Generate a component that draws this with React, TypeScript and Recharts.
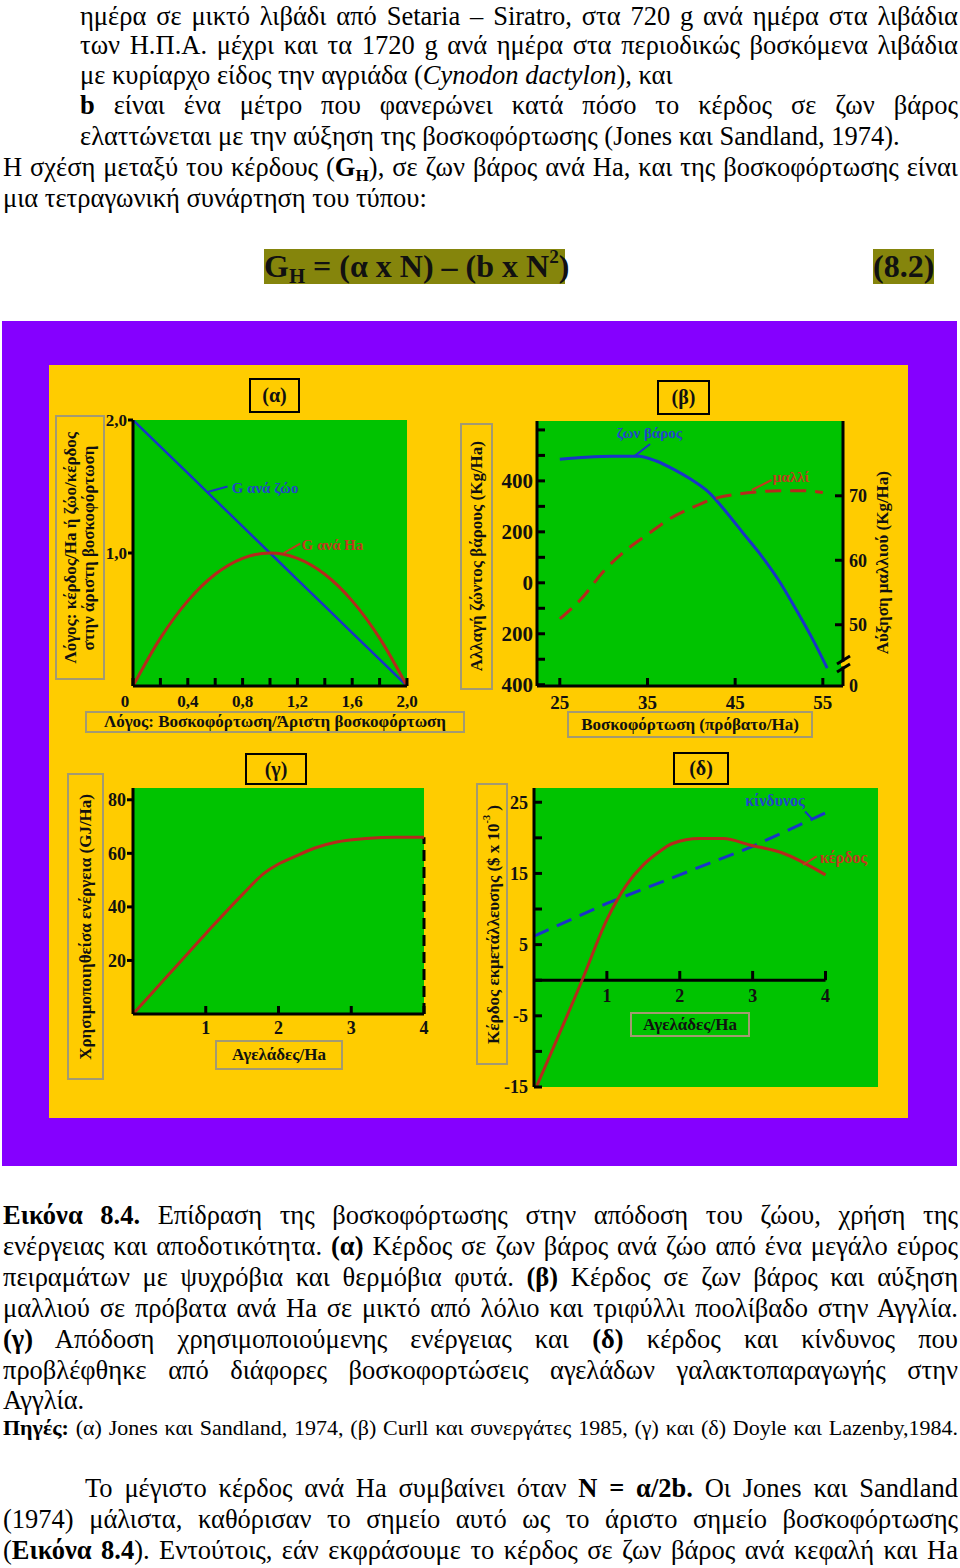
import React from 'react'
import { LineChart, Line, XAxis, YAxis, CartesianGrid, ReferenceLine, ReferenceDot } from 'recharts'

const FONT = '"Liberation Serif", "Times New Roman", serif'
const GREEN = '#00c300'
const YELLOW = '#ffcc00'
const PURPLE = '#8500ff'
const BLUE = '#1a34c8'
const RED = '#b52a1c'
const LABEL_BLUE = '#2147c9'
const LABEL_RED = '#c23a1e'
const BOX_EDGE = '2px solid #a39a72'

// (α) ratio of stocking rate to optimum
const ratio = [0, 0.2, 0.4, 0.6, 0.8, 1.0, 1.2, 1.4, 1.6, 1.8, 2.0]
const gainPerAnimal = [2.0, 1.8, 1.6, 1.4, 1.2, 1.0, 0.8, 0.6, 0.4, 0.2, 0]
const gainPerHa = [0, 0.36, 0.64, 0.84, 0.96, 1.0, 0.96, 0.84, 0.64, 0.36, 0]
const ratioTickLabels = ['0', '', '0,4', '', '0,8', '', '1,2', '', '1,6', '', '2,0']
const ratioYTicks = [1, 2]
const ratioYLabels = ['1,0', '2,0']

// (β) sheep per Ha
const sheepLw = [25, 28, 31, 34, 36, 38, 40, 42, 44, 46, 48, 50, 52, 54, 55.5]
const liveWeight = [485, 493, 497, 497, 478, 445, 405, 355, 277, 191, 106, 8, -108, -232, -335]
const sheepWool = [25, 27.5, 30, 32.5, 35, 37.5, 40, 42.5, 45, 47.5, 50, 52.5, 55]
const wool = [50.9, 54.1, 58.3, 61.5, 64.0, 66.4, 68.1, 69.5, 70.2, 70.6, 70.8, 70.8, 70.5]
const sheepTicks = [25, 35, 45, 55]
const sheepTickLabels = ['25', '35', '45', '55']
const lwTicks = [-400, -300, -200, -100, 0, 100, 200, 300, 400, 500, 600]
const lwTickLabels = ['400', '', '200', '', '0', '', '200', '', '400', '', '']
const woolTicks = [40.5, 50, 60, 70]
const woolTickLabels = ['0', '50', '60', '70']

// (γ) cows per Ha vs energy used
const cowsEnergy = [0, 0.5, 1, 1.5, 1.8, 2.0, 2.2, 2.5, 2.8, 3.2, 3.6, 4.0]
const energy = [0, 15, 30, 44.5, 52.5, 56, 58.5, 62, 64.2, 65.5, 66, 66]
const cowTicks = [1, 2, 3, 4]
const cowTickLabels = ['1', '2', '3', '4']
const energyTicks = [20, 40, 60, 80]
const energyTickLabels = ['20', '40', '60', '80']

// (δ) cows per Ha vs profit and risk
const cowsProfit = [0.04, 0.66, 1.0, 1.27, 1.5, 1.7, 1.9, 2.27, 2.6, 2.96, 3.4, 4.0]
const profit = [-14.8, 0, 8.5, 13.4, 16.2, 17.9, 19.2, 19.9, 19.9, 19.0, 17.9, 14.8]
const cowsRisk = [0, 1, 2, 3, 4]
const risk = [6.2, 10.8, 14.8, 18.8, 23.5]
const profitTicks = [-15, -10, -5, 0, 5, 10, 15, 20, 25]
const profitTickLabels = ['-15', '', '-5', '', '5', '', '15', '', '25']

const pairs = (xs: number[], ys: number[]) => xs.map((x, i) => ({ x, y: ys[i] }))

const axisLine = { stroke: '#000', strokeWidth: 3 }
const tickFont = { fontFamily: FONT, fontWeight: 700, fill: '#111' }

function BottomTick(props: any) {
  const { x, y, index, labels, len, inward, gap, size, zeroShift = 0 } = props
  const label = labels[index] ?? ''
  return (
    <g>
      {len > 0 && <line x1={x} x2={x} y1={y} y2={inward ? y - len : y + len} stroke="#000" strokeWidth={3} />}
      {label !== '' && (
        <text x={x + (index === 0 ? zeroShift : 0)} y={y + gap} dy="0.35em" textAnchor="middle" fontSize={size} {...tickFont}>
          {label}
        </text>
      )}
    </g>
  )
}

function LeftTick(props: any) {
  const { x, y, index, labels, len, inward, gap, size } = props
  const label = labels[index] ?? ''
  return (
    <g>
      <line x1={x} x2={inward ? x + len : x - len} y1={y} y2={y} stroke="#000" strokeWidth={3} />
      {label !== '' && (
        <text x={x - gap} y={y} dy="0.35em" textAnchor="end" fontSize={size} {...tickFont}>
          {label}
        </text>
      )}
    </g>
  )
}

function RightTick(props: any) {
  const { x, y, index, labels, size } = props
  const label = labels[index] ?? ''
  const isBreak = index === 0
  return (
    <g>
      {!isBreak && <line x1={x} x2={x - 8} y1={y} y2={y} stroke="#000" strokeWidth={3} />}
      {isBreak && (
        <g stroke="#000" strokeWidth={3}>
          <line x1={x - 2} x2={x + 2} y1={y - 22} y2={y - 22} stroke={YELLOW} strokeWidth={5} />
          <line x1={x - 6} x2={x + 7} y1={y - 22} y2={y - 30} />
          <line x1={x - 6} x2={x + 7} y1={y - 14} y2={y - 22} />
        </g>
      )}
      <text x={x + 6} y={y} dy="0.35em" textAnchor="start" fontSize={size} {...tickFont}>
        {label}
      </text>
    </g>
  )
}

// text drawn at a data point, used for the curve names and the (δ) axis numbers
function note(text: string, color: string, size: number, anchor: 'start' | 'middle' = 'start', dy = 0) {
  return (p: any) => (
    <text x={p.cx} y={p.cy + dy} dy="0.35em" textAnchor={anchor} fill={color} fontSize={size} fontWeight={700} fontFamily={FONT}>
      {text}
    </text>
  )
}

function Box({ left, top, width, height, border = BOX_EDGE, vertical = false, size = 17, bg, children }: any) {
  return (
    <div
      style={{
        position: 'absolute', left, top, width, height, boxSizing: 'border-box', border,
        display: 'flex', alignItems: 'center', justifyContent: 'center', background: bg,
        fontFamily: FONT, fontWeight: 700, fontSize: size, lineHeight: 1.05, color: '#111',
      }}
    >
      <div style={vertical ? { writingMode: 'vertical-rl', transform: 'rotate(180deg)', textAlign: 'center', whiteSpace: 'nowrap' } : { whiteSpace: 'nowrap' }}>
        {children}
      </div>
    </div>
  )
}

function TextLine({ y, left = 3, right = 958, justify = true, size = 26.5, children }: any) {
  return (
    <div
      style={{
        position: 'absolute', left, top: y - 16, width: right - left, height: 32, lineHeight: '32px',
        fontFamily: FONT, fontSize: size, color: '#000',
        textAlign: justify ? 'justify' : 'left', textAlignLast: justify ? 'justify' : 'left',
      }}
    >
      {children}
    </div>
  )
}

function PanelA() {
  return (
    <div style={{ position: 'absolute', left: 95, top: 405 }}>
      <LineChart width={335} height={310} margin={{ top: 15, right: 23, left: 0, bottom: 0 }}>
        <CartesianGrid fill={GREEN} stroke="none" horizontal={false} vertical={false} />
        <XAxis
          type="number" dataKey="x" domain={[0, 2]} ticks={ratio} interval={0} height={29}
          tickSize={0} tickMargin={0} tickLine={false} axisLine={axisLine} allowDataOverflow
          tick={(p: any) => <BottomTick {...p} labels={ratioTickLabels} len={8} inward gap={15} size={17} zeroShift={-8} />}
        />
        <YAxis
          type="number" domain={[0, 2]} ticks={ratioYTicks} interval={0} width={38}
          tickSize={0} tickMargin={0} tickLine={false} axisLine={axisLine} allowDataOverflow
          tick={(p: any) => <LeftTick {...p} labels={ratioYLabels} len={5} gap={6} size={17} />}
        />
        <Line data={pairs(ratio, gainPerAnimal)} dataKey="y" stroke={BLUE} strokeWidth={2.5} dot={false} activeDot={false} isAnimationActive={false} />
        <Line data={pairs(ratio, gainPerHa)} dataKey="y" stroke={RED} strokeWidth={3} dot={false} activeDot={false} isAnimationActive={false} type="monotone" />
        <ReferenceLine segment={[{ x: 0.55, y: 1.46 }, { x: 0.69, y: 1.5 }]} stroke={BLUE} strokeWidth={2} />
        <ReferenceDot x={0.72} y={1.49} r={0} shape={note('G ανά ζώο', LABEL_BLUE, 15)} />
        <ReferenceLine segment={[{ x: 1.1, y: 1.0 }, { x: 1.22, y: 1.07 }]} stroke={LABEL_RED} strokeWidth={2} />
        <ReferenceDot x={1.23} y={1.06} r={0} shape={note('G ανά Ha', LABEL_RED, 15)} />
      </LineChart>
    </div>
  )
}

function PanelB() {
  return (
    <div style={{ position: 'absolute', left: 495, top: 410 }}>
      <LineChart width={380} height={305} margin={{ top: 11, right: 0, left: 0, bottom: 0 }}>
        <CartesianGrid yAxisId="left" fill={GREEN} stroke="none" horizontal={false} vertical={false} />
        <XAxis
          type="number" dataKey="x" domain={[22.4, 57.3]} ticks={sheepTicks} interval={0} height={29}
          tickSize={0} tickMargin={0} tickLine={false} axisLine={axisLine} allowDataOverflow
          tick={(p: any) => <BottomTick {...p} labels={sheepTickLabels} len={8} inward gap={16} size={19} />}
        />
        <YAxis
          yAxisId="left" type="number" domain={[-405, 635]} ticks={lwTicks} interval={0} width={42}
          tickSize={0} tickMargin={0} tickLine={false} axisLine={axisLine} allowDataOverflow
          tick={(p: any) => <LeftTick {...p} labels={lwTickLabels} len={8} inward gap={4} size={21} />}
        />
        <YAxis
          yAxisId="right" orientation="right" type="number" domain={[40.5, 81.6]} ticks={woolTicks} interval={0} width={32}
          tickSize={0} tickMargin={0} tickLine={false} axisLine={axisLine} allowDataOverflow
          tick={(p: any) => <RightTick {...p} labels={woolTickLabels} size={18} />}
        />
        <Line yAxisId="left" data={pairs(sheepLw, liveWeight)} dataKey="y" stroke={BLUE} strokeWidth={3} type="monotone" dot={false} activeDot={false} isAnimationActive={false} />
        <Line yAxisId="right" data={pairs(sheepWool, wool)} dataKey="y" stroke={RED} strokeWidth={3} strokeDasharray="16 9" type="monotone" dot={false} activeDot={false} isAnimationActive={false} />
        <ReferenceLine yAxisId="left" segment={[{ x: 33.55, y: 498 }, { x: 35.3, y: 545 }]} stroke={BLUE} strokeWidth={2} />
        <ReferenceDot yAxisId="left" x={31.5} y={588} r={0} shape={note('ζων βάρος', LABEL_BLUE, 15)} />
        <ReferenceLine yAxisId="right" segment={[{ x: 46.9, y: 70.9 }, { x: 49.15, y: 72.45 }]} stroke={LABEL_RED} strokeWidth={2} />
        <ReferenceDot yAxisId="right" x={49.3} y={72.9} r={0} shape={note('μαλλί', LABEL_RED, 15)} />
      </LineChart>
    </div>
  )
}

function PanelC() {
  return (
    <div style={{ position: 'absolute', left: 95, top: 775 }}>
      <LineChart width={340} height={270} margin={{ top: 13, right: 11, left: 0, bottom: 0 }}>
        <CartesianGrid fill={GREEN} stroke="none" horizontal={false} vertical={false} />
        <XAxis
          type="number" dataKey="x" domain={[0, 4]} ticks={cowTicks} interval={0} height={31}
          tickSize={0} tickMargin={0} tickLine={false} axisLine={axisLine} allowDataOverflow
          tick={(p: any) => <BottomTick {...p} labels={cowTickLabels} len={8} inward gap={14} size={18} />}
        />
        <YAxis
          type="number" domain={[0, 84.4]} ticks={energyTicks} interval={0} width={38}
          tickSize={0} tickMargin={0} tickLine={false} axisLine={axisLine} allowDataOverflow
          tick={(p: any) => <LeftTick {...p} labels={energyTickLabels} len={6} gap={7} size={18} />}
        />
        <ReferenceLine segment={[{ x: 4, y: 0 }, { x: 4, y: 66 }]} stroke="#000" strokeWidth={3} strokeDasharray="11 6" />
        <Line data={pairs(cowsEnergy, energy)} dataKey="y" stroke={RED} strokeWidth={3} type="monotone" dot={false} activeDot={false} isAnimationActive={false} />
      </LineChart>
    </div>
  )
}

function PanelD() {
  return (
    <div style={{ position: 'absolute', left: 490, top: 775 }}>
      <LineChart width={400} height={332} margin={{ top: 13, right: 12, left: 0, bottom: 20 }}>
        <CartesianGrid fill={GREEN} stroke="none" horizontal={false} vertical={false} />
        <XAxis type="number" dataKey="x" domain={[0, 4.72]} hide allowDataOverflow />
        <YAxis
          type="number" domain={[-15, 27]} ticks={profitTicks} interval={0} width={44}
          tickSize={0} tickMargin={0} tickLine={false} axisLine={axisLine} allowDataOverflow
          tick={(p: any) => <LeftTick {...p} labels={profitTickLabels} len={8} inward gap={6} size={18} />}
        />
        <ReferenceLine segment={[{ x: 0, y: 0 }, { x: 4, y: 0 }]} stroke="#000" strokeWidth={3} />
        {cowTicks.map((t) => (
          <ReferenceLine key={'t' + t} segment={[{ x: t, y: 0 }, { x: t, y: 1.3 }]} stroke="#000" strokeWidth={3} />
        ))}
        {cowTicks.map((t, i) => (
          <ReferenceDot key={'l' + t} x={t} y={0} r={0} shape={note(cowTickLabels[i], '#111', 18, 'middle', 15)} />
        ))}
        <Line data={pairs(cowsRisk, risk)} dataKey="y" stroke={BLUE} strokeWidth={3} strokeDasharray="16 9" dot={false} activeDot={false} isAnimationActive={false} />
        <Line data={pairs(cowsProfit, profit)} dataKey="y" stroke={RED} strokeWidth={3} type="monotone" dot={false} activeDot={false} isAnimationActive={false} />
        <ReferenceLine segment={[{ x: 3.72, y: 23.7 }, { x: 3.82, y: 22.6 }]} stroke={BLUE} strokeWidth={2} />
        <ReferenceDot x={2.9} y={25.3} r={0} shape={note('κίνδυνος', LABEL_BLUE, 16)} />
        <ReferenceLine segment={[{ x: 3.69, y: 16.2 }, { x: 3.88, y: 17.4 }]} stroke={LABEL_RED} strokeWidth={2} />
        <ReferenceDot x={3.92} y={17.3} r={0} shape={note('κέρδος', LABEL_RED, 16)} />
      </LineChart>
    </div>
  )
}

const olive = { position: 'absolute' as const, top: 249, height: 35, background: '#85850c', fontWeight: 700, fontSize: 32, lineHeight: '35px', textAlign: 'center' as const, whiteSpace: 'nowrap' as const, color: '#111' }
const lowered = { fontSize: '0.65em', position: 'relative' as const, top: '0.3em', lineHeight: 0 }
const raised = { fontSize: '0.6em', position: 'relative' as const, top: '-0.75em', lineHeight: 0 }

export default function App() {
  return (
    <div style={{ position: 'absolute', left: 0, top: 0, width: 960, height: 1568, background: '#fff', overflow: 'hidden', fontFamily: FONT }}>
      <TextLine y={16} left={80}>ημέρα σε μικτό λιβάδι από Setaria – Siratro, στα 720 g ανά ημέρα στα λιβάδια</TextLine>
      <TextLine y={45} left={80}>των Η.Π.Α. μέχρι και τα 1720 g ανά ημέρα στα περιοδικώς βοσκόμενα λιβάδια</TextLine>
      <TextLine y={75} left={80} justify={false}>με κυρίαρχο είδος την αγριάδα (<i>Cynodon dactylon</i>), και</TextLine>
      <TextLine y={105} left={80}><b>b</b> είναι ένα μέτρο που φανερώνει κατά πόσο το κέρδος σε ζων βάρος</TextLine>
      <TextLine y={136} left={80} justify={false}>ελαττώνεται με την αύξηση της βοσκοφόρτωσης (Jones και Sandland, 1974).</TextLine>
      <TextLine y={167}>Η σχέση μεταξύ του κέρδους (<b>G<span style={lowered}>H</span></b>), σε ζων βάρος ανά Ha, και της βοσκοφόρτωσης είναι</TextLine>
      <TextLine y={198} justify={false}>μια τετραγωνική συνάρτηση του τύπου:</TextLine>

      <div style={{ ...olive, left: 264, width: 301 }}>
        G<span style={lowered}>H</span> = (α x N) – (b x N<span style={raised}>2</span>)
      </div>
      <div style={{ ...olive, left: 873, width: 61 }}>(8.2)</div>

      <div style={{ position: 'absolute', left: 2, top: 321, width: 955, height: 845, background: PURPLE }} />
      <div style={{ position: 'absolute', left: 49, top: 365, width: 859, height: 753, background: YELLOW }} />

      <PanelA />
      <PanelB />
      <PanelC />
      <PanelD />

      <Box left={249} top={378} width={51} height={35} border="2px solid #000" size={20}>(α)</Box>
      <Box left={55} top={415} width={50} height={265} vertical>
        Λόγος: κέρδος/Ha ή ζώο/κέρδος<br />στην άριστη βοσκοφόρτωση
      </Box>
      <Box left={85} top={711} width={380} height={22}>Λόγος: Βοσκοφόρτωση/Άριστη βοσκοφόρτωση</Box>

      <Box left={657} top={380} width={53} height={35} border="2px solid #000" size={20}>(β)</Box>
      <Box left={460} top={423} width={33} height={267} vertical>Αλλαγή ζώντος βάρους (Kg/Ha)</Box>
      <Box left={871} top={455} width={24} height={215} border="none" vertical>Αύξηση μαλλιού (Kg/Ha)</Box>
      <Box left={567} top={711} width={246} height={27}>Βοσκοφόρτωση (πρόβατο/Ha)</Box>

      <Box left={245} top={753} width={62} height={32} border="2px solid #000" size={20}>(γ)</Box>
      <Box left={67} top={773} width={37} height={307} vertical>Χρησιμοποιηθείσα ενέργεια (GJ/Ha)</Box>
      <Box left={215} top={1040} width={128} height={30}>Αγελάδες/Ha</Box>

      <Box left={673} top={752} width={56} height={33} border="2px solid #000" size={20}>(δ)</Box>
      <Box left={476} top={783} width={32} height={282} vertical>
        Κέρδος εκμετάλλευσης ($ x 10<sup style={{ fontSize: '0.6em' }}>-3</sup> )
      </Box>
      <Box left={630} top={1012} width={120} height={25}>Αγελάδες/Ha</Box>

      <TextLine y={1215}><b>Εικόνα 8.4.</b> Επίδραση της βοσκοφόρτωσης στην απόδοση του ζώου, χρήση της</TextLine>
      <TextLine y={1246}>ενέργειας και αποδοτικότητα. <b>(α)</b> Κέρδος σε ζων βάρος ανά ζώο από ένα μεγάλο εύρος</TextLine>
      <TextLine y={1277}>πειραμάτων με ψυχρόβια και θερμόβια φυτά. <b>(β)</b> Κέρδος σε ζων βάρος και αύξηση</TextLine>
      <TextLine y={1308}>μαλλιού σε πρόβατα ανά Ha σε μικτό από λόλιο και τριφύλλι ποολίβαδο στην Αγγλία.</TextLine>
      <TextLine y={1339}><b>(γ)</b> Απόδοση χρησιμοποιούμενης ενέργειας και <b>(δ)</b> κέρδος και κίνδυνος που</TextLine>
      <TextLine y={1370}>προβλέφθηκε από διάφορες βοσκοφορτώσεις αγελάδων γαλακτοπαραγωγής στην</TextLine>
      <TextLine y={1400} justify={false}>Αγγλία.</TextLine>
      <TextLine y={1428} size={22}><b>Πηγές:</b> (α) Jones και Sandland, 1974, (β) Curll και συνεργάτες 1985, (γ) και (δ) Doyle και Lazenby,1984.</TextLine>
      <TextLine y={1488} left={85}>Το μέγιστο κέρδος ανά Ha συμβαίνει όταν <b>N = α/2b.</b> Οι Jones και Sandland</TextLine>
      <TextLine y={1519}>(1974) μάλιστα, καθόρισαν το σημείο αυτό ως το άριστο σημείο βοσκοφόρτωσης</TextLine>
      <TextLine y={1550}>(<b>Εικόνα 8.4</b>). Εντούτοις, εάν εκφράσουμε το κέρδος σε ζων βάρος ανά κεφαλή και Ha</TextLine>
    </div>
  )
}
